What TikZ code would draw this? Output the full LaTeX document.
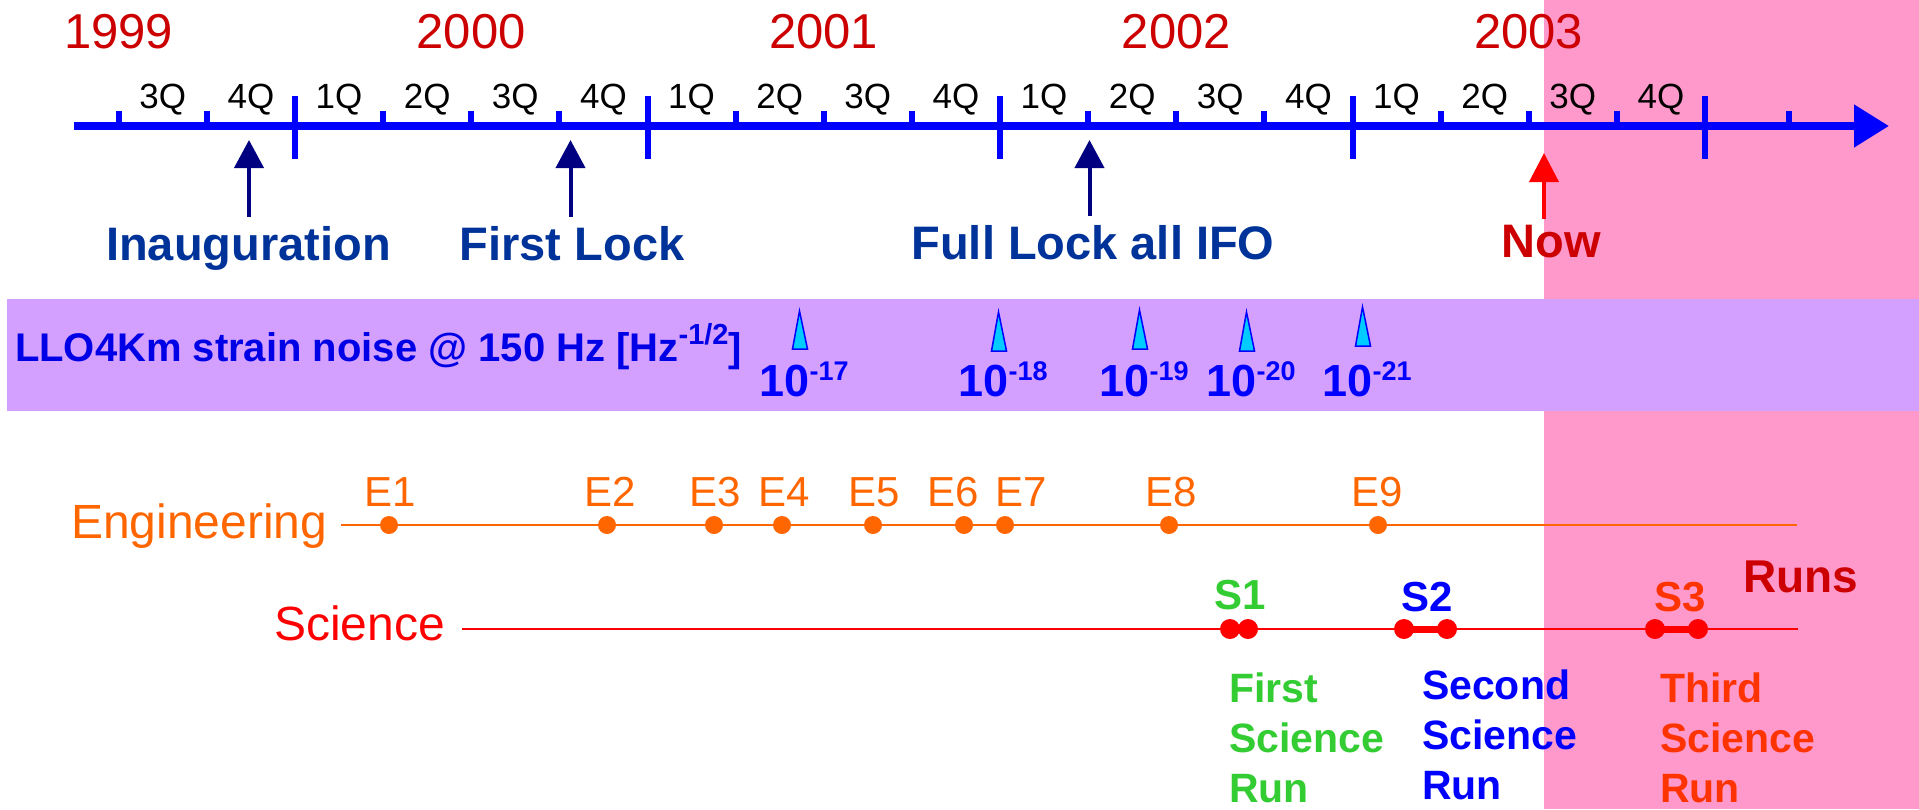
\documentclass[tikz,border=0pt]{standalone}
\usepackage{fontspec}
\setmainfont{Liberation Sans}
\usetikzlibrary{arrows.meta,calc}

\definecolor{yearred}{RGB}{204,0,0}
\definecolor{axisblue}{RGB}{0,0,255}
\definecolor{navyarr}{RGB}{0,0,128}
\definecolor{eventblue}{RGB}{0,51,153}
\definecolor{futurepink}{RGB}{255,153,204}
\definecolor{bandlilac}{RGB}{211,160,255}
\definecolor{bandblue}{RGB}{0,0,230}
\definecolor{spikecyan}{RGB}{0,204,255}
\definecolor{engorange}{RGB}{255,102,0}
\definecolor{scired}{RGB}{255,0,0}
\definecolor{runone}{RGB}{51,204,51}
\definecolor{runtwo}{RGB}{0,0,255}
\definecolor{runthree}{RGB}{255,51,0}

\newcommand\setfsz[1]{\fontsize{#1}{#1}\selectfont}

\tikzset{
  yearlabel/.style={text=yearred, font={\setfsz{49}}, anchor=base},
  qlabel/.style={text=black, font={\setfsz{35}}, anchor=base},
  majortick/.style={axisblue, line width=6pt},
  minortick/.style={axisblue, line width=6pt},
  eventlabel/.style={text=eventblue, font={\bfseries\setfsz{47}}, anchor=base},
  eventarrow/.style={navyarr, line width=4pt, -{Triangle[length=28pt,width=29pt]}},
  nowarrow/.style={scired, line width=4pt, -{Triangle[length=29pt,width=29pt]}},
  spike/.style={draw=axisblue, fill=spikecyan, line width=1.5pt, line join=miter},
  expolabel/.style={text=axisblue, font={\bfseries\setfsz{45}}, anchor=base},
  rowlabel/.style={font={\setfsz{48}}, anchor=base west},
  engdot/.style={circle, fill=engorange, minimum size=18pt},
  englabel/.style={text=engorange, font={\setfsz{42}}, anchor=base},
  scidot/.style={circle, fill=scired, minimum size=20pt},
  runlabel/.style={font={\bfseries\setfsz{42}}, anchor=base},
  rundesc/.style={font={\bfseries\fontsize{41}{50}\selectfont}, anchor=base west},
}

\begin{document}
\begin{tikzpicture}[x=1pt, y=-1pt, every node/.style={inner sep=0pt, outer sep=0pt}]
  \useasboundingbox (0,0) rectangle (1919,809);
  \fill[white] (0,0) rectangle (1919,809);

  % future (not yet reached) part of the chart
  \fill[futurepink] (1544,0) rectangle (1919,809);
  % strain-noise band
  \fill[bandlilac] (7,299) rectangle (1919,411);

  % ---- time axis ----
  \coordinate (axL) at (74,126);
  \coordinate (axR) at (1889,126);
  \draw[axisblue, line width=8pt, -{Triangle[length=35pt,width=41pt]}] (axL) -- (axR);

  \foreach \x in {295,647.5,1000,1352.5,1705}
    \draw[majortick] (\x,96) -- (\x,159);
  \foreach \k in {0,1,3,4,5,7,8,9,11,12,13,15,16,17}
    \draw[minortick] (118.75+88.125*\k,111) -- (118.75+88.125*\k,126);
  \draw[minortick] (1789,111) -- (1789,126);

  \foreach \yr [count=\i from 0] in {1999,2000,2001,2002,2003}
    \node[yearlabel] (y\yr) at (118.75+352.5*\i,48) {\yr};

  \foreach \k in {0,...,17} {
    \pgfmathsetmacro\qx{118.75+88.125*\k+44.06}
    \pgfmathtruncatemacro\qn{mod(\k+2,4)+1}
    \node[qlabel] (q\k) at (\qx,108) {\qn Q};
  }

  % ---- milestones ----
  \node[eventlabel] (inaug) at (248.5,260) {Inauguration};
  \coordinate (inaugtip) at (249,140);
  \draw[eventarrow] ($(inaugtip |- inaug.north)+(0,-9)$) -- (inaugtip);

  \node[eventlabel] (flock) at (572,260) {First Lock};
  \coordinate (flocktip) at (570.5,140);
  \draw[eventarrow] ($(flocktip |- flock.north)+(0,-9)$) -- (flocktip);

  \node[eventlabel] (fulllock) at (1093,259) {Full Lock all IFO};
  \coordinate (fulllocktip) at (1089.5,140);
  \draw[eventarrow] ($(fulllocktip |- fulllock.north)+(0,-9)$) -- (fulllocktip);

  \node[eventlabel, text=yearred] (now) at (1551,257) {Now};
  \coordinate (nowtip) at (1544,153);
  \draw[nowarrow] ($(nowtip |- now.north)+(0,-6)$) -- (nowtip);

  % ---- strain noise progress ----
  \node[anchor=base west, text=bandblue, font={\bfseries\setfsz{40}}] (band) at (15,361)
    {LLO4Km strain noise @ 150 Hz [Hz\raisebox{17pt}{\setfsz{29}-1/2}]};

  \foreach \x/\yt/\yb/\e in {800/311/349/17, 999/312/351/18, 1140/310/349/19,
                             1247/312/351/20, 1363/307/346/21} {
    \draw[spike] (\x-0.5,\yt) -- (\x+7.5,\yb) -- (\x-7.5,\yb) -- cycle;
    \node[expolabel] (n\e) at (\x+4,396) {10\raisebox{16pt}{\setfsz{27}-\e}};
  }

  % ---- engineering runs ----
  \node[rowlabel, text=engorange] (englab) at (71,538) {Engineering};
  \coordinate (engL) at (341,525);
  \coordinate (engR) at (1797,525);
  \draw[engorange, line width=2.5pt] (engL) -- (engR);
  \foreach \x/\lx [count=\i] in {389/390,607/610,714/715,782/784,873/874,
                                 964/953,1005/1021,1169/1171,1378/1377} {
    \node[engdot] (e\i) at (\x,525) {};
    \node[englabel] (el\i) at (\lx,506) {E\i};
  }

  % ---- science runs ----
  \node[rowlabel, text=scired] (scilab) at (274,640) {Science};
  \coordinate (sciL) at (462,629);
  \coordinate (sciR) at (1798,629);
  \draw[scired, line width=2.5pt] (sciL) -- (sciR);

  \node[scidot] (s1a) at (1230,629) {};
  \node[scidot] (s1b) at (1248,629) {};
  \node[scidot] (s2a) at (1404,629) {};
  \node[scidot] (s2b) at (1447,629) {};
  \node[scidot] (s3a) at (1655,629) {};
  \node[scidot] (s3b) at (1698,629) {};
  \draw[scired, line width=7pt] (s2a.center) -- (s2b.center);
  \draw[scired, line width=7pt] (s3a.center) -- (s3b.center);

  \node[runlabel, text=runone] (s1lab) at (1240,609) {S1};
  \node[runlabel, text=runtwo] (s2lab) at (1427,611) {S2};
  \node[runlabel, text=runthree] (s3lab) at (1680,611) {S3};
  \node[runlabel, text=yearred, font={\bfseries\setfsz{46}}] (runs) at (1801,592) {Runs};

  \node[rundesc, text=runone] (d1) at (1229,702) {\vtop{\hbox{First}\hbox{Science}\hbox{Run}}};
  \node[rundesc, text=runtwo] (d2) at (1422,699) {\vtop{\hbox{Second}\hbox{Science}\hbox{Run}}};
  \node[rundesc, text=runthree] (d3) at (1660,702) {\vtop{\hbox{Third}\hbox{Science}\hbox{Run}}};
\end{tikzpicture}
\end{document}
